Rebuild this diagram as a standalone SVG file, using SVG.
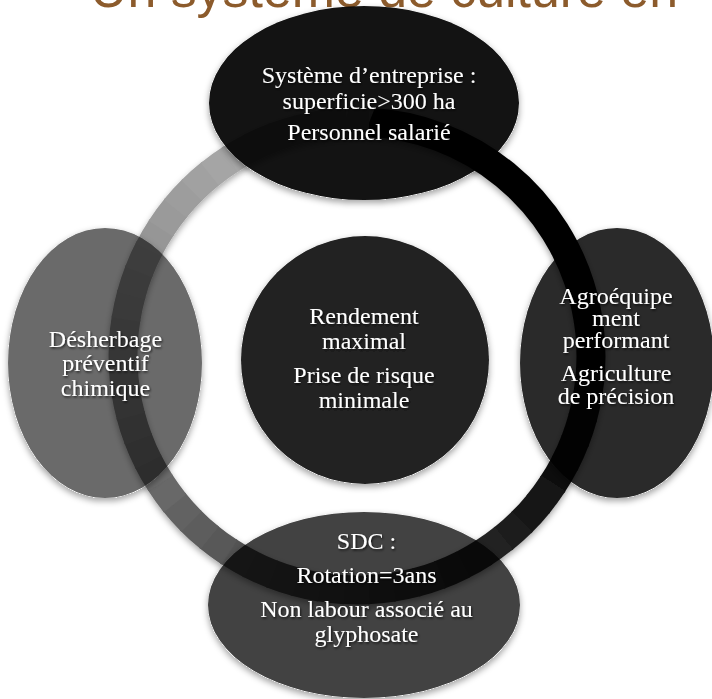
<svg xmlns="http://www.w3.org/2000/svg" width="712" height="699" viewBox="0 0 712 699">
<style>
.title{font-family:"Liberation Sans",Arial,sans-serif;font-size:51px;fill:#8c5b2c}
.t{font-family:"Liberation Serif","Times New Roman",serif;font-size:24px;fill:#fff;text-anchor:middle}
.s{fill:none;stroke-width:29;stroke-dasharray:6.5 353.5}
</style>
<defs>
<filter id="rs" x="-10%" y="-10%" width="120%" height="125%">
<feDropShadow dx="0" dy="3" stdDeviation="3" flood-color="#000" flood-opacity="0.35"/>
</filter>
<filter id="es" x="-10%" y="-10%" width="120%" height="125%">
<feColorMatrix in="SourceAlpha" type="matrix" values="0 0 0 0 0 0 0 0 0 0 0 0 0 0 0 0 0 0 30 0" result="solid"/>
<feGaussianBlur in="solid" stdDeviation="3" result="b"/>
<feOffset in="b" dy="3" result="o"/>
<feComposite in="o" in2="solid" operator="out" result="sh"/>
<feColorMatrix in="sh" type="matrix" values="0 0 0 0 0 0 0 0 0 0 0 0 0 0 0 0 0 0 0.35 0" result="sh2"/>
<feMerge><feMergeNode in="sh2"/><feMergeNode in="SourceGraphic"/></feMerge>
</filter>
<filter id="ts" x="-10%" y="-20%" width="120%" height="150%">
<feDropShadow dx="1" dy="1.5" stdDeviation="1" flood-color="#000" flood-opacity="0.7"/>
</filter>
</defs>
<rect width="712" height="699" fill="#fff"/>
<text class="title" x="90" y="7" textLength="588" lengthAdjust="spacingAndGlyphs">Un système de culture en</text>
<g id="connectors" transform="translate(357 356)" filter="url(#rs)">
<circle r="234" pathLength="360" class="s" style="stroke-dasharray:72.5 287.5" transform="rotate(-87)" stroke="#000"/>
<circle r="234" pathLength="360" class="s" transform="rotate(-15)" stroke="#010101"/>
<circle r="234" pathLength="360" class="s" transform="rotate(-9)" stroke="#030303"/>
<circle r="234" pathLength="360" class="s" transform="rotate(-3)" stroke="#050505"/>
<circle r="234" pathLength="360" class="s" transform="rotate(3)" stroke="#070707"/>
<circle r="234" pathLength="360" class="s" transform="rotate(9)" stroke="#0a0a0a"/>
<circle r="234" pathLength="360" class="s" transform="rotate(15)" stroke="#0c0c0c"/>
<circle r="234" pathLength="360" class="s" transform="rotate(21)" stroke="#0e0e0e"/>
<circle r="234" pathLength="360" class="s" transform="rotate(27)" stroke="#111111"/>
<circle r="234" pathLength="360" class="s" transform="rotate(33)" stroke="#141414"/>
<circle r="234" pathLength="360" class="s" transform="rotate(39)" stroke="#181818"/>
<circle r="234" pathLength="360" class="s" transform="rotate(45)" stroke="#1c1c1c"/>
<circle r="234" pathLength="360" class="s" transform="rotate(51)" stroke="#202020"/>
<circle r="234" pathLength="360" class="s" transform="rotate(57)" stroke="#242424"/>
<circle r="234" pathLength="360" class="s" transform="rotate(63)" stroke="#282828"/>
<circle r="234" pathLength="360" class="s" transform="rotate(69)" stroke="#2d2d2d"/>
<circle r="234" pathLength="360" class="s" transform="rotate(75)" stroke="#323232"/>
<circle r="234" pathLength="360" class="s" transform="rotate(81)" stroke="#373737"/>
<circle r="234" pathLength="360" class="s" transform="rotate(87)" stroke="#3c3c3c"/>
<circle r="234" pathLength="360" class="s" transform="rotate(93)" stroke="#404040"/>
<circle r="234" pathLength="360" class="s" transform="rotate(99)" stroke="#454545"/>
<circle r="234" pathLength="360" class="s" transform="rotate(105)" stroke="#4a4a4a"/>
<circle r="234" pathLength="360" class="s" transform="rotate(111)" stroke="#4e4e4e"/>
<circle r="234" pathLength="360" class="s" transform="rotate(117)" stroke="#535353"/>
<circle r="234" pathLength="360" class="s" transform="rotate(123)" stroke="#585858"/>
<circle r="234" pathLength="360" class="s" transform="rotate(129)" stroke="#5d5d5d"/>
<circle r="234" pathLength="360" class="s" transform="rotate(135)" stroke="#626262"/>
<circle r="234" pathLength="360" class="s" transform="rotate(141)" stroke="#676767"/>
<circle r="234" pathLength="360" class="s" transform="rotate(147)" stroke="#6c6c6c"/>
<circle r="234" pathLength="360" class="s" transform="rotate(153)" stroke="#707070"/>
<circle r="234" pathLength="360" class="s" transform="rotate(159)" stroke="#757575"/>
<circle r="234" pathLength="360" class="s" transform="rotate(165)" stroke="#7a7a7a"/>
<circle r="234" pathLength="360" class="s" transform="rotate(171)" stroke="#7e7e7e"/>
<circle r="234" pathLength="360" class="s" transform="rotate(177)" stroke="#838383"/>
<circle r="234" pathLength="360" class="s" transform="rotate(183)" stroke="#878787"/>
<circle r="234" pathLength="360" class="s" transform="rotate(189)" stroke="#8b8b8b"/>
<circle r="234" pathLength="360" class="s" transform="rotate(195)" stroke="#8f8f8f"/>
<circle r="234" pathLength="360" class="s" transform="rotate(201)" stroke="#929292"/>
<circle r="234" pathLength="360" class="s" transform="rotate(207)" stroke="#969696"/>
<circle r="234" pathLength="360" class="s" transform="rotate(213)" stroke="#9a9a9a"/>
<circle r="234" pathLength="360" class="s" transform="rotate(219)" stroke="#9d9d9d"/>
<circle r="234" pathLength="360" class="s" transform="rotate(225)" stroke="#a1a1a1"/>
<circle r="234" pathLength="360" class="s" transform="rotate(231)" stroke="#a5a5a5"/>
<circle r="234" pathLength="360" class="s" transform="rotate(237)" stroke="#a8a8a8"/>
<circle r="234" pathLength="360" class="s" transform="rotate(243)" stroke="#ababab"/>
<circle r="234" pathLength="360" class="s" transform="rotate(249)" stroke="#aeaeae"/>
<circle r="234" pathLength="360" class="s" transform="rotate(255)" stroke="#b0b0b0"/>
<circle r="234" pathLength="360" class="s" transform="rotate(261)" stroke="#b2b2b2"/>
<circle r="234" pathLength="360" class="s" style="stroke-dasharray:6 354" transform="rotate(267)" stroke="#b5b5b5"/>
</g>
<g id="node-center" filter="url(#es)">
<circle cx="365" cy="360" r="124" fill="#232323"/>
<g filter="url(#ts)">
<text class="t" x="364" y="324">Rendement</text>
<text class="t" x="364" y="349">maximal</text>
<text class="t" x="364" y="383">Prise de risque</text>
<text class="t" x="364" y="408">minimale</text>
</g>
</g>
<g id="node-top" filter="url(#es)">
<ellipse cx="364" cy="103" rx="155" ry="97" fill="#000" fill-opacity="0.925"/>
<g filter="url(#ts)">
<text class="t" x="369" y="83">Système d’entreprise :</text>
<text class="t" x="369" y="109">superficie&gt;300 ha</text>
<text class="t" x="369" y="140">Personnel salarié</text>
</g>
</g>
<g id="node-right" filter="url(#es)">
<ellipse cx="617" cy="363" rx="97" ry="135" fill="#000" fill-opacity="0.835"/>
<g filter="url(#ts)">
<text class="t" x="616" y="304">Agroéquipe</text>
<text class="t" x="616" y="326">ment</text>
<text class="t" x="616" y="348">performant</text>
<text class="t" x="616" y="381">Agriculture</text>
<text class="t" x="616" y="404">de précision</text>
</g>
</g>
<g id="node-bottom" filter="url(#es)">
<ellipse cx="364" cy="605" rx="156" ry="93" fill="#000" fill-opacity="0.74"/>
<g filter="url(#ts)">
<text class="t" x="366.5" y="549">SDC :</text>
<text class="t" x="366.5" y="583">Rotation=3ans</text>
<text class="t" x="366.5" y="617">Non labour associé au</text>
<text class="t" x="366.5" y="642">glyphosate</text>
</g>
</g>
<g id="node-left" filter="url(#es)">
<ellipse cx="105" cy="363" rx="97" ry="135" fill="#000" fill-opacity="0.585"/>
<g filter="url(#ts)">
<text class="t" x="105.5" y="347">Désherbage</text>
<text class="t" x="105.5" y="371">préventif</text>
<text class="t" x="105.5" y="396">chimique</text>
</g>
</g>
</svg>
